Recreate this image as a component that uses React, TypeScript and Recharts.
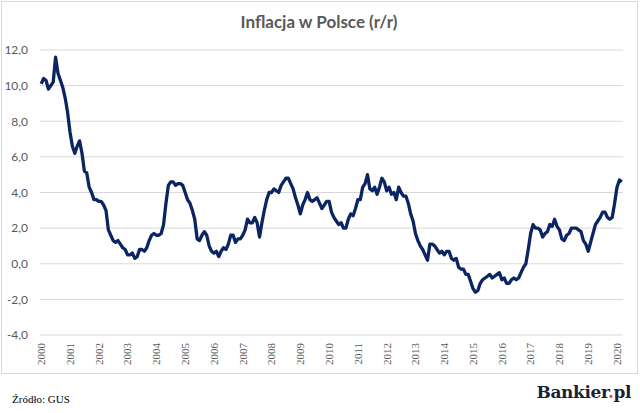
import React from 'react';
import { LineChart, Line, XAxis, YAxis, CartesianGrid } from 'recharts';

// Monthly CPI y/y (%), Poland, GUS
const y2000 = [10.1, 10.4, 10.3, 9.8, 10.0, 10.2, 11.6, 10.7, 10.3, 9.9, 9.3, 8.5];
const y2001 = [7.4, 6.6, 6.2, 6.6, 6.9, 6.2, 5.2, 5.1, 4.3, 4.0, 3.6, 3.6];
const y2002 = [3.5, 3.5, 3.3, 3.0, 1.9, 1.6, 1.3, 1.2, 1.3, 1.1, 0.9, 0.8];
const y2003 = [0.5, 0.5, 0.6, 0.3, 0.4, 0.8, 0.8, 0.7, 0.9, 1.3, 1.6, 1.7];
const y2004 = [1.6, 1.6, 1.7, 2.2, 3.4, 4.4, 4.6, 4.6, 4.4, 4.5, 4.5, 4.4];
const y2005 = [4.0, 3.6, 3.4, 3.0, 2.5, 1.4, 1.3, 1.6, 1.8, 1.6, 1.0, 0.7];
const y2006 = [0.6, 0.7, 0.4, 0.7, 0.9, 0.8, 1.1, 1.6, 1.6, 1.2, 1.4, 1.4];
const y2007 = [1.6, 1.9, 2.5, 2.3, 2.3, 2.6, 2.3, 1.5, 2.3, 3.0, 3.6, 4.0];
const y2008 = [4.0, 4.2, 4.1, 4.0, 4.4, 4.6, 4.8, 4.8, 4.5, 4.2, 3.7, 3.3];
const y2009 = [2.8, 3.3, 3.6, 4.0, 3.6, 3.5, 3.6, 3.7, 3.4, 3.1, 3.3, 3.5];
const y2010 = [3.5, 2.9, 2.6, 2.4, 2.2, 2.3, 2.0, 2.0, 2.5, 2.8, 2.7, 3.1];
const y2011 = [3.6, 3.6, 4.3, 4.5, 5.0, 4.2, 4.1, 4.3, 3.9, 4.3, 4.8, 4.6];
const y2012 = [4.1, 4.3, 3.9, 4.0, 3.6, 4.3, 4.0, 3.8, 3.8, 3.4, 2.8, 2.4];
const y2013 = [1.7, 1.3, 1.0, 0.8, 0.5, 0.2, 1.1, 1.1, 1.0, 0.8, 0.6, 0.7];
const y2014 = [0.5, 0.7, 0.7, 0.3, 0.2, 0.3, -0.2, -0.3, -0.3, -0.6, -0.6, -1.0];
const y2015 = [-1.4, -1.6, -1.5, -1.1, -0.9, -0.8, -0.7, -0.6, -0.8, -0.7, -0.6, -0.5];
const y2016 = [-0.9, -0.8, -1.1, -1.1, -0.9, -0.8, -0.9, -0.8, -0.5, -0.2, 0.0, 0.8];
const y2017 = [1.7, 2.2, 2.0, 2.0, 1.9, 1.5, 1.7, 1.8, 2.2, 2.1, 2.5, 2.1];
const y2018 = [1.9, 1.4, 1.3, 1.6, 1.7, 2.0, 2.0, 2.0, 1.9, 1.8, 1.3, 1.1];
const y2019 = [0.7, 1.2, 1.7, 2.2, 2.4, 2.6, 2.9, 2.9, 2.6, 2.5, 2.6, 3.4];
const y2020 = [4.3, 4.7, 4.6];

const yearBlocks = [
  y2000, y2001, y2002, y2003, y2004, y2005, y2006, y2007, y2008, y2009, y2010,
  y2011, y2012, y2013, y2014, y2015, y2016, y2017, y2018, y2019, y2020,
];
const startYear = 2000;
const yearLabels = yearBlocks.map((_, k) => String(startYear + k));
const yTicks = [-4, -2, 0, 2, 4, 6, 8, 10, 12];

const data = yearBlocks.flatMap((vals, yi) =>
  vals.map((v, m) => ({ i: yi * 12 + m, cpi: v }))
);
const lastIndex = data.length - 1;
const xTicks = yearLabels.map((_, k) => k * 12);

const PLOT_BOTTOM = 335;

const XTick = (props: any) => {
  const { x, payload } = props;
  const label = yearLabels[Math.round(payload.value / 12)];
  return (
    <g transform={`translate(${x},${PLOT_BOTTOM})`}>
      <text
        transform="rotate(-90)"
        x={-8}
        y={0}
        dy="0.35em"
        textAnchor="end"
        fill="#595959"
        fontSize={11}
        fontFamily="'Liberation Serif', serif"
      >
        {label}
      </text>
    </g>
  );
};

export default function App() {
  return (
    <div
      style={{
        position: 'absolute',
        left: 0,
        top: 0,
        width: 640,
        height: 413,
        background: '#ffffff',
        overflow: 'hidden',
      }}
    >
      <div
        style={{
          position: 'absolute',
          left: 1,
          top: 1,
          width: 635,
          height: 371,
          border: '1px solid #d9d9d9',
        }}
      />
      <div
        style={{
          position: 'absolute',
          left: 0,
          top: 12,
          width: 638,
          textAlign: 'center',
          fontFamily: 'Lato, sans-serif',
          fontWeight: 700,
          fontSize: 17,
          color: '#595959',
          lineHeight: '20px',
        }}
      >
        Inflacja w Polsce (r/r)
      </div>
      <div style={{ position: 'absolute', left: 0, top: 0 }}>
        <LineChart
          width={640}
          height={380}
          data={data}
          margin={{ top: 50, right: 17, left: 0, bottom: 0 }}
        >
          <CartesianGrid vertical={false} stroke="#d9d9d9" strokeWidth={1} />
          <XAxis
            dataKey="i"
            type="number"
            domain={[-0.5, lastIndex + 0.5]}
            ticks={xTicks}
            interval={0}
            tick={<XTick />}
            tickLine={false}
            axisLine={false}
            height={45}
          />
          <YAxis
            type="number"
            domain={[-4, 12]}
            ticks={yTicks}
            interval={0}
            width={40}
            tickLine={false}
            axisLine={false}
            tickMargin={6}
            tickFormatter={(v: number) => v.toFixed(1).replace('.', ',')}
            tick={{ fill: '#595959', fontSize: 12, fontFamily: 'Lato, sans-serif' }}
          />
          <Line
            type="linear"
            dataKey="cpi"
            stroke="#0b2462"
            strokeWidth={3.3}
            dot={false}
            isAnimationActive={false}
            strokeLinejoin="round"
          />
        </LineChart>
      </div>
      <div
        style={{
          position: 'absolute',
          left: 12,
          top: 392,
          fontFamily: "'Liberation Serif', serif",
          fontSize: 11,
          color: '#000000',
          lineHeight: '14px',
        }}
      >
        Źródło: GUS
      </div>
      <div
        style={{
          position: 'absolute',
          right: 9,
          top: 381,
          fontFamily: "'DejaVu Serif', serif",
          fontWeight: 700,
          fontSize: 17,
          color: '#1b1f3b',
          lineHeight: '22px',
          letterSpacing: '-0.4px',
        }}
      >
        Bankier<span style={{ color: '#e8501a' }}>.</span>pl
      </div>
    </div>
  );
}
